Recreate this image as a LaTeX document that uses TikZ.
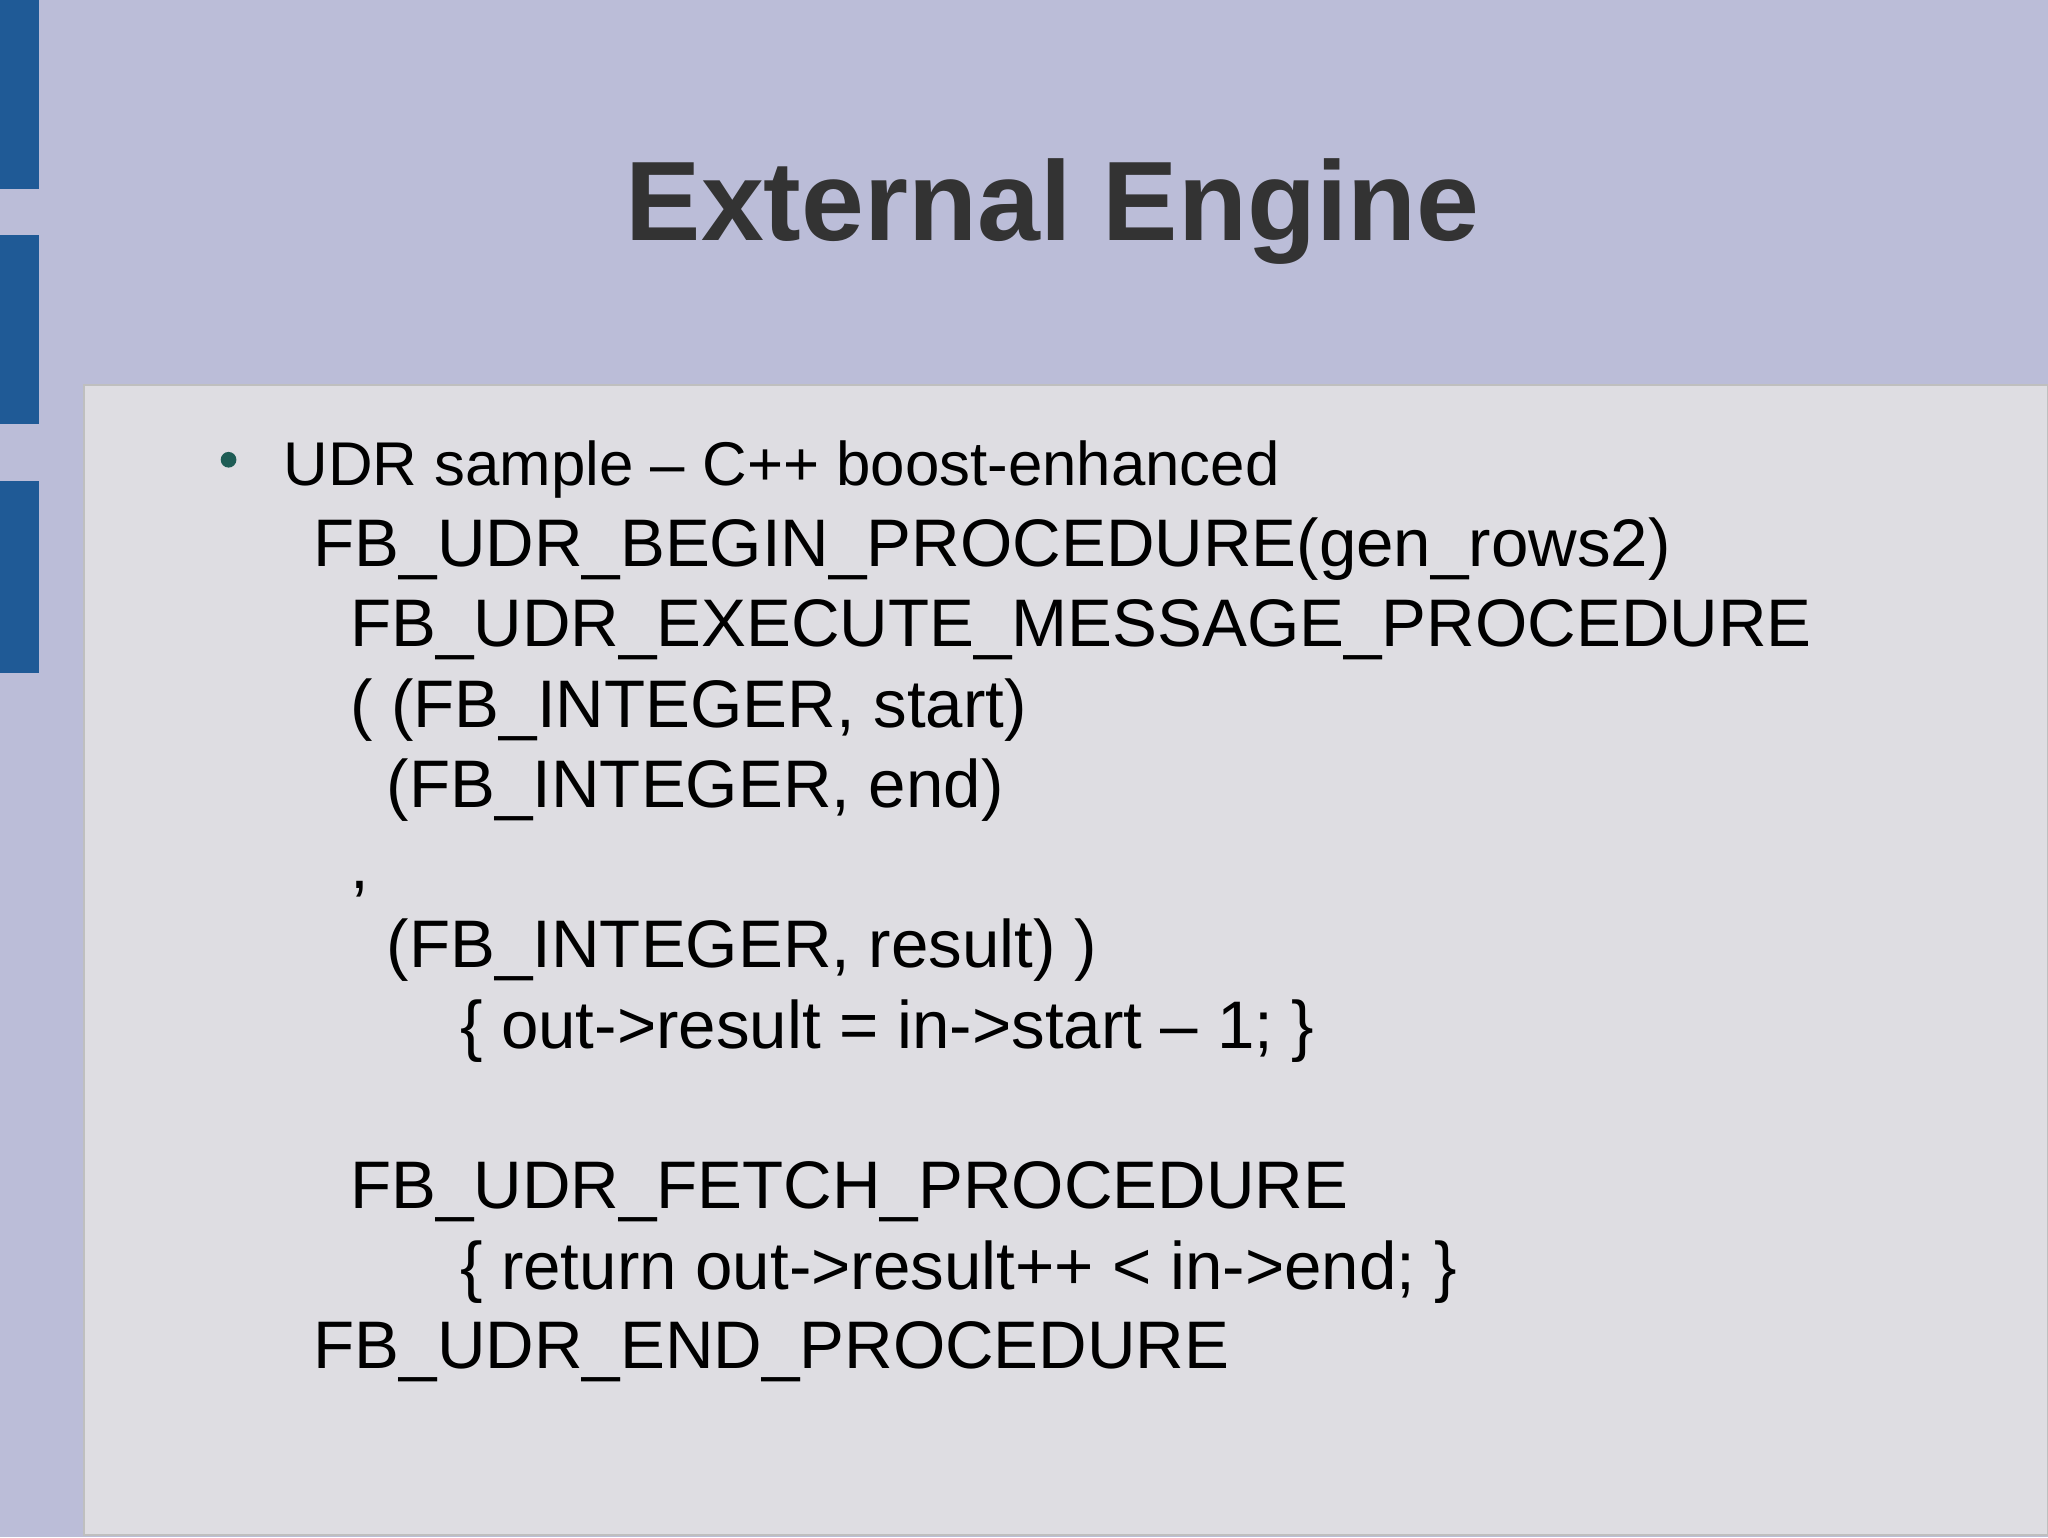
\documentclass[tikz,border=0pt]{standalone}
\usepackage{fontspec}
\setmainfont{Liberation Sans}
\definecolor{bg}{HTML}{BBBDD8}
\definecolor{panel}{HTML}{DEDDE2}
\definecolor{bar}{HTML}{1F5A96}
\definecolor{ttl}{HTML}{333333}
\definecolor{bul}{HTML}{1E5C55}
\begin{document}
\begin{tikzpicture}[x=1pt,y=-1pt,
  ln/.style={anchor=base west,inner sep=0pt,font=\fontsize{51.5}{55}\selectfont}]
\fill[bg] (0,0) rectangle (1568,1177);
\useasboundingbox (0,0) rectangle (1568,1177);
\fill[bar] (0,0) rectangle (30,145);
\fill[bar] (0,180) rectangle (30,325);
\fill[bar] (0,368) rectangle (30,515);
\filldraw[fill=panel,draw=black!25,line width=1.5pt] (64,295) rectangle (1568,1175);
\node[inner sep=0pt,text=ttl,font=\bfseries\fontsize{86.5}{90}\selectfont] (title) at (806,162) {External Engine};
\fill[bul] (175,352) circle (6);
\node[ln,font=\fontsize{47.3}{50}\selectfont] (l1) at (217,372) {UDR sample – C++ boost-enhanced};
\node[ln] (l2) at (240,434) {FB\_UDR\_BEGIN\_PROCEDURE(gen\_rows2)};
\node[ln] (l3) at (268,495) {FB\_UDR\_EXECUTE\_MESSAGE\_PROCEDURE};
\node[ln] (l4) at (268,557) {( (FB\_INTEGER, start)};
\node[ln] (l5) at (296,618) {(FB\_INTEGER, end)};
\node[ln] (l6) at (268,680) {,};
\node[ln] (l7) at (296,741) {(FB\_INTEGER, result) )};
\node[ln] (l8) at (352,803) {\{ out->result = in->start – 1; \}};
\node[ln] (l9) at (268,925) {FB\_UDR\_FETCH\_PROCEDURE};
\node[ln] (l10) at (352,987) {\{ return out->result++ < in->end; \}};
\node[ln] (l11) at (240,1048) {FB\_UDR\_END\_PROCEDURE};
\end{tikzpicture}
\end{document}
